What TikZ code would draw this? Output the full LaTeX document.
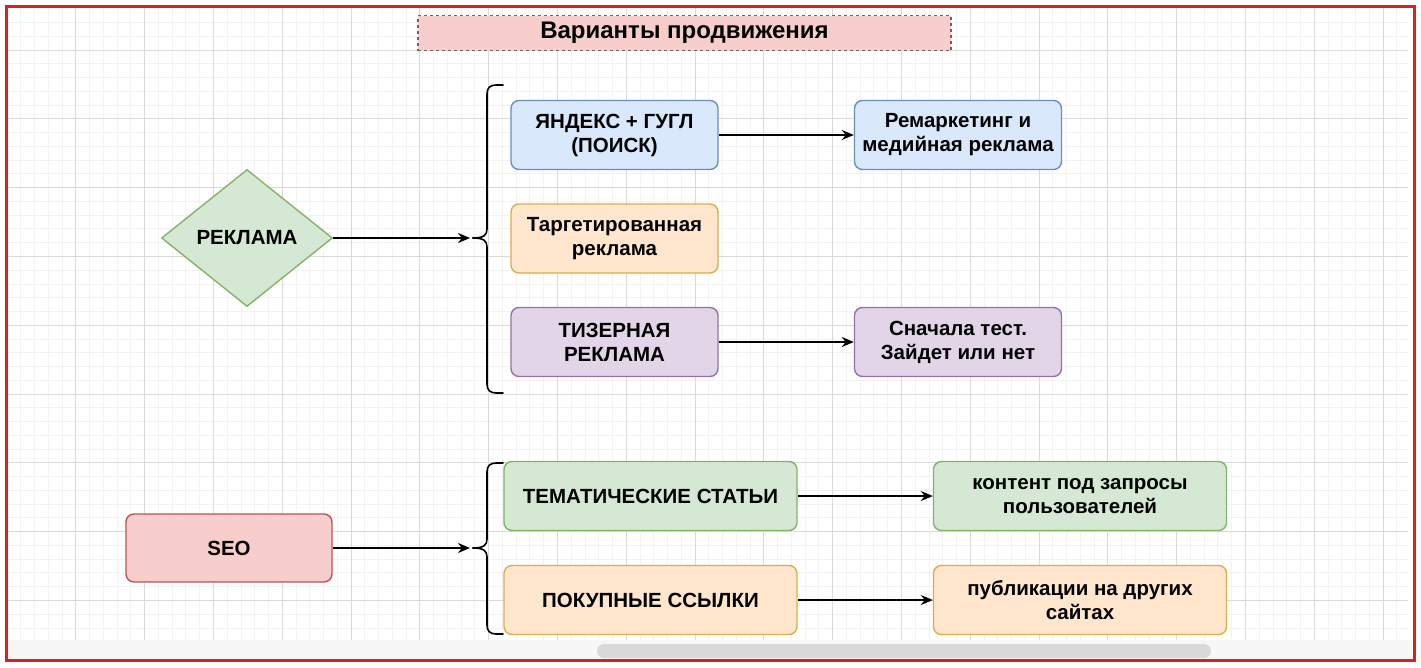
\documentclass[tikz,border=0pt]{standalone}
\usepackage{fontspec}
\setmainfont{Liberation Sans}
\usetikzlibrary{shapes.geometric,arrows.meta}
\definecolor{gfill}{HTML}{D5E8D4}\definecolor{gline}{HTML}{82B366}
\definecolor{bfill}{HTML}{DAE8FC}\definecolor{bline}{HTML}{6C8EBF}
\definecolor{ofill}{HTML}{FFE6CC}\definecolor{oline}{HTML}{DCAE4B}
\definecolor{pfill}{HTML}{E1D5E7}\definecolor{pline}{HTML}{9673A6}
\definecolor{rfill}{HTML}{F8CECC}\definecolor{rline}{HTML}{B85450}
\definecolor{frame}{HTML}{D42222}
\definecolor{gridmaj}{HTML}{DADADA}\definecolor{gridmin}{HTML}{F2F2F2}
\tikzset{
  box/.style={rectangle, rounded corners=8pt, line width=1.4pt, align=center,
    font=\fontsize{20.5}{24}\selectfont\bfseries, inner sep=2pt},
  bx/.style={box, minimum width=207pt, minimum height=69pt},
  wide/.style={box, minimum width=293pt, minimum height=69pt},
  green/.style={fill=gfill, draw=gline},
  blue/.style={fill=bfill, draw=bline},
  orange/.style={fill=ofill, draw=oline},
  purple/.style={fill=pfill, draw=pline},
  red/.style={fill=rfill, draw=rline},
  conn/.style={line width=1.8pt, -{Stealth[length=12pt,width=10pt]}},
  bracepath/.style={line width=1.6pt, line cap=round},
}
\begin{document}
\begin{tikzpicture}[x=1pt,y=-1pt]
\useasboundingbox (0,0) rectangle (1421,667);
\fill[white] (0,0) rectangle (1421,667);
% grid
\begin{scope}
\clip (8,8) rectangle (1408,640);
\foreach \i in {0,...,102} {\draw[gridmin, line width=0.8pt] ({7+13.76*\i},8) -- ({7+13.76*\i},640);}
\foreach \j in {-2,...,48} {\draw[gridmin, line width=0.8pt] (8,{50+13.76*\j}) -- (1408,{50+13.76*\j});}
\foreach \i in {0,...,21} {\draw[gridmaj, line width=0.9pt] ({7+68.8*\i},8) -- ({7+68.8*\i},640);}
\foreach \j in {-1,...,9} {\draw[gridmaj, line width=0.9pt] (8,{50+68.8*\j}) -- (1408,{50+68.8*\j});}
\end{scope}
\fill[gray!6] (8,640) rectangle (1413,659);
\fill[black!15, rounded corners=7pt] (597,644) rectangle (1211,658);
\draw[frame, line width=3.5pt] (6.5,6.5) rectangle (1414.5,660.5);

% title
\node[fill=rfill, draw=black!60, dashed, line width=1.2pt, minimum width=533pt, minimum height=35pt,
  font=\fontsize{24}{28}\selectfont\bfseries] (title) at (684.5,33) {Варианты продвижения};

% advertising section
\node[diamond, fill=gfill, draw=gline, line width=1.4pt, minimum width=171pt, minimum height=137pt,
  inner sep=0pt, font=\fontsize{20.5}{24}\selectfont\bfseries] (ads) at (247,238) {РЕКЛАМА};
\node[bx, blue] (yg) at (614.5,135) {ЯНДЕКС + ГУГЛ\\(ПОИСК)};
\node[bx, blue] (rem) at (958,135) {Ремаркетинг и\\медийная реклама};
\node[bx, orange] (tgt) at (614.5,238.5) {Таргетированная\\реклама};
\node[bx, purple] (tiz) at (614.5,342) {ТИЗЕРНАЯ\\РЕКЛАМА};
\node[bx, purple] (test) at (958,342) {Сначала тест.\\Зайдет или нет};

\coordinate (b1) at (473,238);
\draw[bracepath] (503,85) -- (496,85) .. controls (490,85) and (487,88) .. (487,94) -- (487,229)
  .. controls (487,235) and (484,238) .. (b1);
\draw[bracepath] (b1) .. controls (484,238) and (487,241) .. (487,247) -- (487,384)
  .. controls (487,390) and (490,393) .. (496,393) -- (503,393);
\coordinate (b1in) at (470,238);
\draw[conn] (ads.east) -- (b1in);
\draw[conn] (yg.east) -- (rem.west);
\draw[conn] (tiz.east) -- (test.west);

% SEO section
\node[box, red, minimum width=206pt, minimum height=68pt] (seo) at (229,548) {SEO};
\node[wide, green] (tem) at (650.5,496) {ТЕМАТИЧЕСКИЕ СТАТЬИ};
\node[wide, green] (cont) at (1080,496) {контент под запросы\\пользователей};
\node[wide, orange] (buy) at (650.5,600) {ПОКУПНЫЕ ССЫЛКИ};
\node[wide, orange] (pub) at (1080,600) {публикации на других\\сайтах};

\coordinate (b2) at (473,548);
\draw[bracepath] (503,463) -- (496,463) .. controls (490,463) and (487,466) .. (487,472) -- (487,539)
  .. controls (487,545) and (484,548) .. (b2);
\draw[bracepath] (b2) .. controls (484,548) and (487,551) .. (487,557) -- (487,625)
  .. controls (487,631) and (490,634) .. (496,634) -- (503,634);
\coordinate (b2in) at (470,548);
\draw[conn] (seo.east) -- (b2in);
\draw[conn] (tem.east) -- (cont.west);
\draw[conn] (buy.east) -- (pub.west);
\end{tikzpicture}
\end{document}
